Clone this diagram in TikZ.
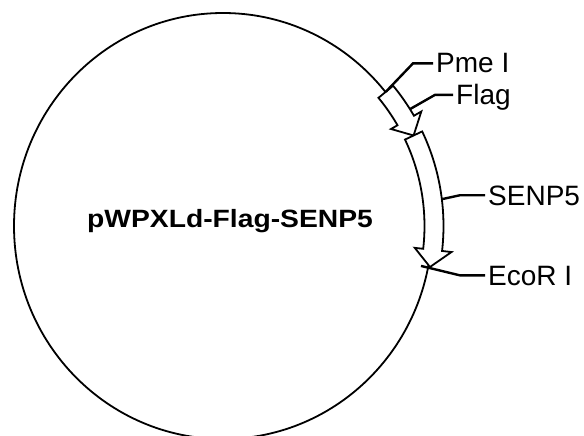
\documentclass[tikz,border=0pt]{standalone}
\usepackage{fontspec}
\setmainfont{Liberation Sans}
\usetikzlibrary{calc}
\tikzstyle{plasmid} = [draw=black, line width=1.8pt]
\tikzstyle{gene} = [draw=black, fill=white, line width=1.8pt, line join=miter]
\tikzstyle{leader} = [draw=black, line width=2.4pt]
\tikzstyle{site} = [anchor=base west, inner xsep=3pt, inner ysep=0pt, text depth=0pt, font=\fontsize{28}{30}\selectfont]

\begin{document}
\begin{tikzpicture}[x=1pt,y=1pt]
\useasboundingbox (0,0) rectangle (584,-436);
% backbone
\draw[plasmid] (223,-226) ellipse [x radius=209, y radius=213];
\node[font=\fontsize{25}{28}\selectfont\bfseries, anchor=base, inner sep=0pt] (name) at (230,-227) {\scalebox{1.13}[1]{pWPXLd-Flag-SENP5}};

\begin{scope}[shift={(223,-226)}]
	% Flag
	\draw[gene] (39.5:220.5) arc[start angle=39.5, end angle=30, radius=220.5] -- (30:229) -- (25.4:211)
		-- (30:194) -- (30:201.5) arc[start angle=30, end angle=39.5, radius=201.5] -- cycle;
	% SENP5
	\draw[gene] (25.4:220.5) arc[start angle=25.4, end angle=-6.5, radius=220.5] -- (-6.5:230) -- (-11.2:211)
		-- (-6.5:193) -- (-6.5:201.5) arc[start angle=-6.5, end angle=25.4, radius=201.5] -- cycle;
	\coordinate (pmecut) at (39.5:211);
	\coordinate (flagcut) at (32:221);
	\coordinate (senpcut) at (7:221);
	\coordinate (ecocut) at (-11.4:202);
\end{scope}

\node[site] (pme) at (433,-73) {Pme I};
\node[site] (flag) at (453,-105) {Flag};
\node[site] (senp) at (485,-205) {SENP5};
\node[site] (eco) at (485,-285) {EcoR I};

\draw[leader] (pmecut) -- ($(pme.west)+(-20,0)$) -- (pme.west);
\draw[leader] (flagcut) -- ($(flag.west)+(-18,0)$) -- (flag.west);
\draw[leader] (senpcut) -- ($(senp.west)+(-25,0)$) -- (senp.west);
\draw[leader] (ecocut) -- ($(eco.west)+(-25,0)$) -- (eco.west);
\end{tikzpicture}
\end{document}
